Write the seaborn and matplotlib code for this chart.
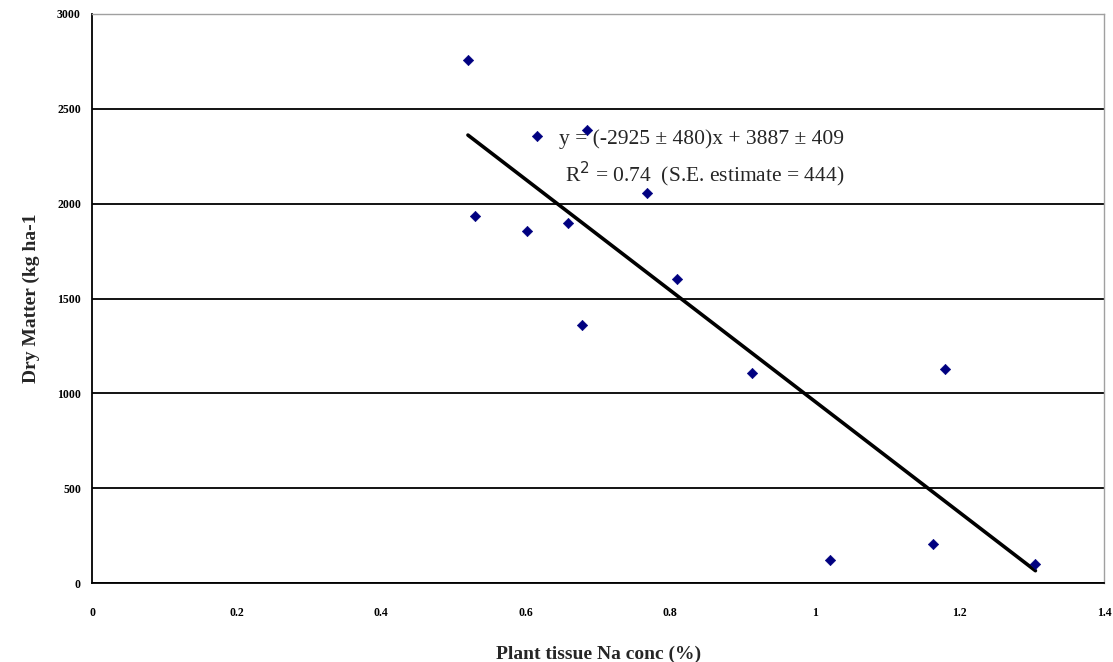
import matplotlib
matplotlib.use("Agg")
import matplotlib.pyplot as plt
import numpy as np
import pandas as pd
import seaborn as sns

# data
na_conc = [0.520, 0.530, 0.602, 0.616, 0.658, 0.678, 0.685, 0.768, 0.809,
           0.913, 1.021, 1.163, 1.180, 1.305]
dry_matter = [2757, 1935, 1856, 2357, 1898, 1360, 2388, 2056, 1603,
              1107, 121, 206, 1128, 100]

x_ticks = [0, 0.2, 0.4, 0.6, 0.8, 1.0, 1.2, 1.4]
x_tick_labels = ["0", "0.2", "0.4", "0.6", "0.8", "1", "1.2", "1.4"]
y_ticks = [0, 500, 1000, 1500, 2000, 2500, 3000]

eq_text = "y = (-2925 \u00b1 480)x + 3887 \u00b1 409"
r2_text = "R$^2$ = 0.74  (S.E. estimate = 444)"

df = pd.DataFrame({"na": na_conc, "dm": dry_matter})

sns.set_style("white")
plt.rcParams['font.family'] = ['Liberation Serif', 'DejaVu Serif']

fig = plt.figure(figsize=(11.13, 6.62), dpi=100)
ax = fig.add_axes([0.0827, 0.119, 0.9093, 0.860])

sns.regplot(data=df, x="na", y="dm", ax=ax, ci=None, truncate=True,
            scatter=False, line_kws={"color": "black", "lw": 2.6})
sns.scatterplot(data=df, x="na", y="dm", ax=ax, marker="D", s=28,
                color="#000080", edgecolor="#000080", zorder=3)

ax.set_xlim(0, 1.4)
ax.set_ylim(0, 3000)
ax.set_yticks(y_ticks)
ax.set_yticklabels([str(v) for v in y_ticks], fontsize=8.5, fontweight="bold")
ax.set_xticks(x_ticks)
ax.set_xticklabels(x_tick_labels, fontsize=8.5, fontweight="bold")
ax.tick_params(axis="x", direction="out", length=5, width=1, pad=12, colors="black")
ax.tick_params(axis="y", direction="out", length=5, width=1, pad=3, colors="black")
ax.yaxis.grid(True, color="black", lw=1.3)
ax.set_axisbelow(True)

for s in ["left", "bottom"]:
    ax.spines[s].set_color("black")
    ax.spines[s].set_linewidth(1.3)
for s in ["top", "right"]:
    ax.spines[s].set_color("#a0a0a0")
    ax.spines[s].set_linewidth(1)

ax.set_xlabel("Plant tissue Na conc (%)", fontsize=14, fontweight="bold", labelpad=19)
ax.set_ylabel("Dry Matter (kg ha-1", fontsize=14, fontweight="bold", labelpad=12)

ax.text(0.646, 2341, eq_text, fontsize=15.5, va="center", ha="left")
ax.text(0.654, 2156, r2_text, fontsize=15.5, va="center", ha="left")

fig.savefig("out.png", dpi=100)
